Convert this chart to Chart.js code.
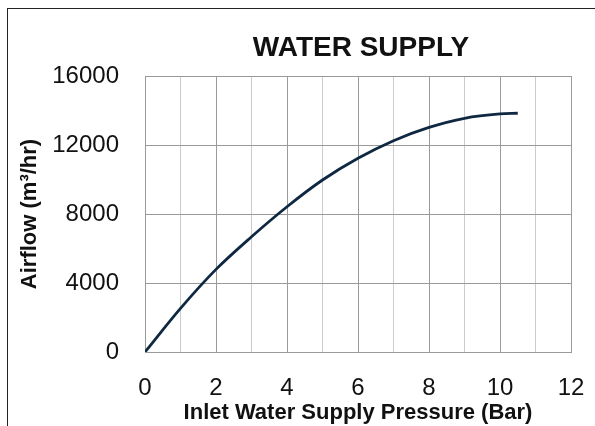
<!DOCTYPE html>
<html>
<head>
<meta charset="utf-8">
<script src="https://cdn.jsdelivr.net/npm/chart.js@4"></script>
<style>
    html, body { margin: 0; padding: 0; background: #fff; }
    #wrap { position: relative; width: 595px; height: 426px; overflow: hidden; }
    #frame {
        position: absolute; left: 7px; top: 8px; width: 700px; height: 500px;
        border-top: 1px solid #222; border-left: 1px solid #222;
    }
    #chart { position: absolute; left: 0; top: 0; }
</style>
</head>
<body>
<div id="wrap">
    <div id="frame"></div>
    <canvas id="chart" width="595" height="426"></canvas>
</div>
<script>
const chartTitle = "WATER SUPPLY";
const xTitle = "Inlet Water Supply Pressure (Bar)";
const yTitle = "Airflow (m³/hr)";

// pressure in bar, airflow in m3/hr
const pressure = [0, 1, 2, 3, 4, 5, 6, 7, 8, 9, 10, 10.5];
const airflow = [0, 2530, 4790, 6680, 8420, 9970, 11230, 12250, 13020, 13550, 13800, 13840];

const xTicks = [0, 2, 4, 6, 8, 10, 12];
const yTicks = [0, 4000, 8000, 12000, 16000];

const tickFont = { family: "'Liberation Sans', Arial, sans-serif", size: 24 };
const titleFont = { family: "'Liberation Sans', Arial, sans-serif", size: 22, weight: "bold" };

// title centred over the plot area rather than the whole canvas
const plotTitle = {
    id: "plotTitle",
    afterDraw(chart) {
        const { ctx, chartArea } = chart;
        ctx.save();
        ctx.font = "bold 28px 'Liberation Sans', Arial, sans-serif";
        ctx.fillStyle = "#111";
        ctx.textAlign = "center";
        ctx.textBaseline = "alphabetic";
        ctx.fillText(chartTitle, (chartArea.left + chartArea.right) / 2 + 3, 56);
        ctx.restore();
    }
};

new Chart(document.getElementById("chart"), {
    type: "line",
    data: {
        datasets: [{
            data: pressure.map((p, i) => ({ x: p, y: airflow[i] })),
            borderColor: "#0e2841",
            borderWidth: 2.8,
            pointRadius: 0,
            cubicInterpolationMode: "monotone",
            fill: false
        }]
    },
    options: {
        responsive: false,
        animation: false,
        layout: { padding: { left: 10, top: 76, right: 24, bottom: 0 } },
        plugins: { legend: { display: false }, tooltip: { enabled: false } },
        scales: {
            x: {
                type: "linear",
                min: 0,
                max: 12,
                afterFit: scale => {
                    scale.height = 74;
                    scale.paddingLeft = 0;
                    scale.paddingRight = 0;
                },
                ticks: {
                    stepSize: 1,
                    autoSkip: false,
                    maxRotation: 0,
                    padding: 22,
                    color: "#111",
                    font: tickFont,
                    callback: v => xTicks.includes(v) ? String(v) : ""
                },
                grid: {
                    drawTicks: false,
                    lineWidth: 1,
                    color: ctx => (ctx.tick && ctx.tick.value % 2 === 0) ? "#9a9a9a" : "#cccccc"
                },
                border: { color: "#9a9a9a" },
                title: {
                    display: true,
                    text: xTitle,
                    color: "#111",
                    font: titleFont,
                    padding: { top: 0, bottom: 0 }
                }
            },
            y: {
                min: 0,
                max: 16000,
                afterFit: scale => { scale.width = 135; },
                ticks: {
                    stepSize: 4000,
                    padding: 26,
                    color: "#111",
                    font: tickFont,
                    callback: v => yTicks.includes(v) ? String(v) : ""
                },
                grid: { drawTicks: false, color: "#9a9a9a", lineWidth: 1 },
                border: { color: "#9a9a9a" },
                title: {
                    display: true,
                    text: yTitle,
                    color: "#111",
                    font: titleFont,
                    padding: { top: 7, bottom: 0 }
                }
            }
        }
    },
    plugins: [plotTitle]
});
</script>
</body>
</html>
